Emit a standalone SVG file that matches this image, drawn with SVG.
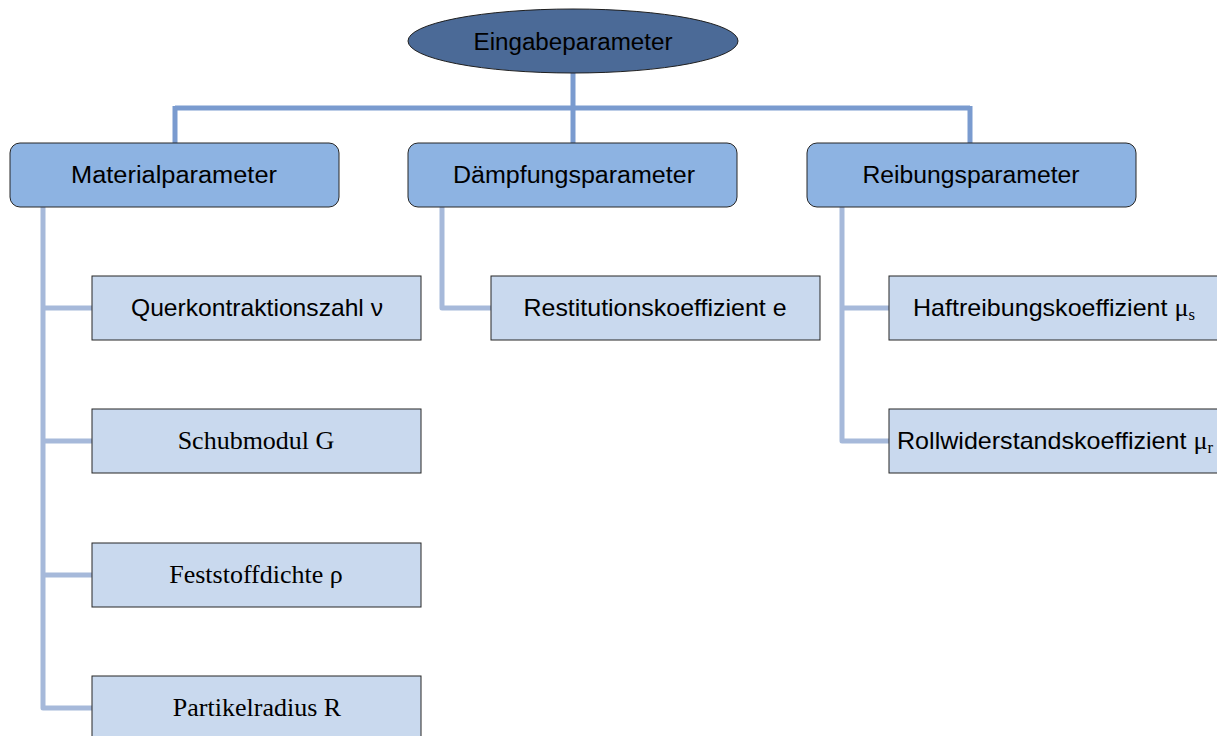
<svg xmlns="http://www.w3.org/2000/svg" width="1217" height="736" viewBox="0 0 1217 736">
  <style>
    .root { fill: #4b6a97; stroke: #1f1f1f; stroke-width: 1; }
    .group { fill: #8db3e2; stroke: #262626; stroke-width: 1; }
    .leaf { fill: #c9d9ee; stroke: #262626; stroke-width: 1; }
    .sans { font-family: "Liberation Sans", Arial, sans-serif; font-size: 23px; fill: #000; text-anchor: middle; }
    .leaf-sans { font-family: "Liberation Sans", Arial, sans-serif; font-size: 24px; fill: #000; text-anchor: middle; }
    .serif { font-family: "Liberation Serif", "Times New Roman", serif; font-size: 26px; fill: #000; text-anchor: middle; }
    .sym { font-family: "Liberation Serif", "Times New Roman", serif; }
    .upper { fill: none; stroke: #7a9bcf; stroke-width: 5; }
    .lower { fill: none; stroke: #a6b9da; stroke-width: 5; stroke-linejoin: round; }
  </style>

  <!-- connectors -->
  <g id="connectors">
    <path class="upper" d="M573 73 V143 M175 108 H970 M175 106 V143 M970 106 V143"/>
    <path class="lower" d="M43 207 V708 H92 M43 308 H92 M43 441 H92 M43 575 H92"/>
    <path class="lower" d="M442 207 V308 H491"/>
    <path class="lower" d="M842 207 V441 H889 M842 308 H889"/>
  </g>

  <g id="eingabeparameter">
    <ellipse class="root" cx="573" cy="41" rx="165" ry="32"/>
    <text class="sans" x="573" y="50" textLength="199" lengthAdjust="spacingAndGlyphs">Eingabeparameter</text>
  </g>

  <g id="materialparameter">
    <rect class="group" x="10" y="143" width="329" height="64" rx="10"/>
    <text class="sans" x="174" y="183" textLength="206" lengthAdjust="spacingAndGlyphs">Materialparameter</text>
  </g>
  <g id="daempfungsparameter">
    <rect class="group" x="408" y="143" width="329" height="64" rx="10"/>
    <text class="sans" x="574" y="183" textLength="242" lengthAdjust="spacingAndGlyphs">Dämpfungsparameter</text>
  </g>
  <g id="reibungsparameter">
    <rect class="group" x="807" y="143" width="329" height="64" rx="10"/>
    <text class="sans" x="971" y="183" textLength="217" lengthAdjust="spacingAndGlyphs">Reibungsparameter</text>
  </g>

  <g id="querkontraktionszahl">
    <rect class="leaf" x="92" y="276" width="329" height="64"/>
    <text class="leaf-sans" x="257" y="316" textLength="252" lengthAdjust="spacingAndGlyphs">Querkontraktionszahl ν</text>
  </g>
  <g id="schubmodul">
    <rect class="leaf" x="92" y="409" width="329" height="64"/>
    <text class="serif" x="256" y="449">Schubmodul G</text>
  </g>
  <g id="feststoffdichte">
    <rect class="leaf" x="92" y="543" width="329" height="64"/>
    <text class="serif" x="256" y="583">Feststoffdichte ρ</text>
  </g>
  <g id="partikelradius">
    <rect class="leaf" x="92" y="676" width="329" height="64"/>
    <text class="serif" x="257" y="716">Partikelradius R</text>
  </g>

  <g id="restitutionskoeffizient">
    <rect class="leaf" x="491" y="276" width="329" height="64"/>
    <text class="leaf-sans" x="655" y="316" textLength="263" lengthAdjust="spacingAndGlyphs">Restitutionskoeffizient e</text>
  </g>

  <g id="haftreibungskoeffizient">
    <rect class="leaf" x="889" y="276" width="332" height="64"/>
    <text class="leaf-sans" x="1054" y="316" textLength="282" lengthAdjust="spacingAndGlyphs">Haftreibungskoeffizient <tspan class="sym" font-size="25">μ</tspan><tspan class="sym" font-size="16" dy="4">s</tspan></text>
  </g>
  <g id="rollwiderstandskoeffizient">
    <rect class="leaf" x="889" y="409" width="332" height="64"/>
    <text class="leaf-sans" x="1055" y="449" textLength="316" lengthAdjust="spacingAndGlyphs">Rollwiderstandskoeffizient <tspan class="sym" font-size="25">μ</tspan><tspan class="sym" font-size="16" dy="4">r</tspan></text>
  </g>
</svg>
